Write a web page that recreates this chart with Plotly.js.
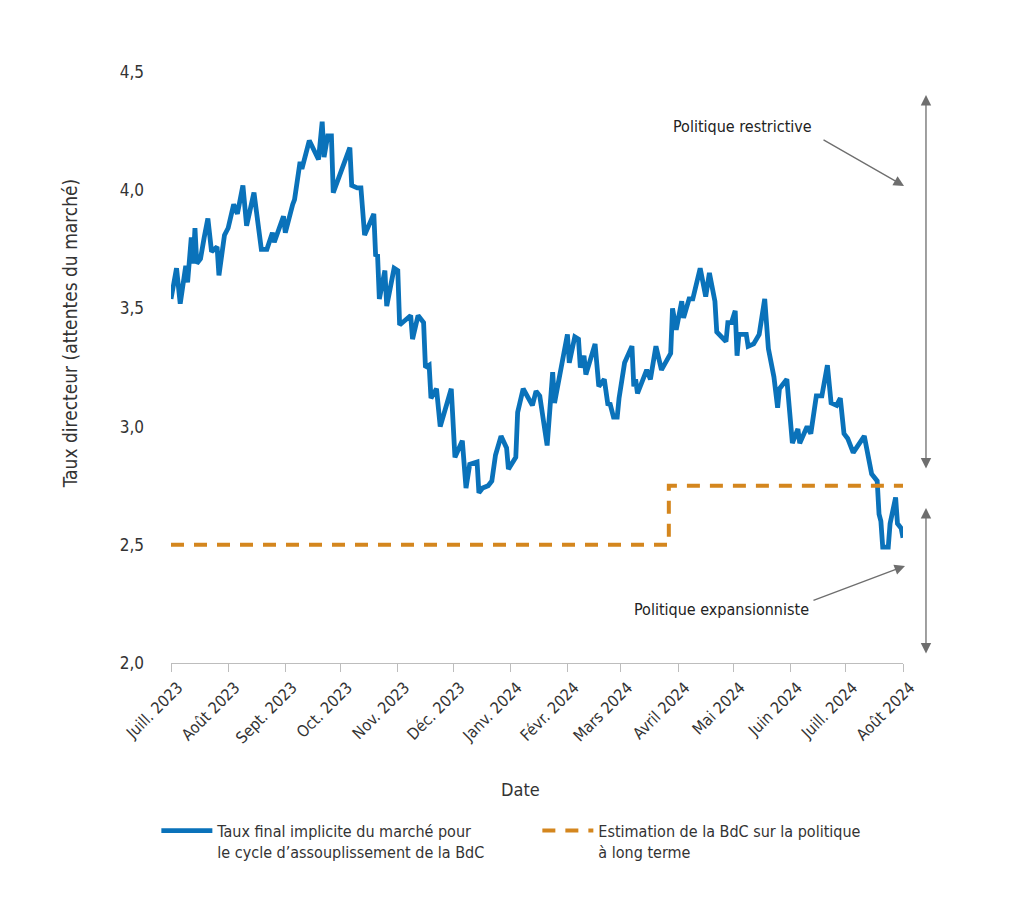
<!DOCTYPE html>
<html>
<head>
<meta charset="utf-8">
<script src="https://cdn.plot.ly/plotly-3.0.1.min.js"></script>
<style>
html,body{margin:0;padding:0;background:#fff;}
#chart{width:1024px;height:921px;}
</style>
</head>
<body>
<div id="chart"></div>
<script>
// Market-implied terminal rate (Taux final implicite du marché)
const marketDates = [
'2023-07-01','2023-07-04','2023-07-06','2023-07-09','2023-07-10','2023-07-12','2023-07-13','2023-07-14','2023-07-15','2023-07-17',
'2023-07-19','2023-07-21','2023-07-23','2023-07-26','2023-07-27','2023-07-30','2023-08-01','2023-08-04','2023-08-06','2023-08-09',
'2023-08-11','2023-08-15','2023-08-19','2023-08-22','2023-08-25','2023-08-26','2023-08-31','2023-09-01','2023-09-05','2023-09-06',
'2023-09-09','2023-09-10','2023-09-14','2023-09-19','2023-09-21','2023-09-22','2023-09-24','2023-09-26','2023-09-27','2023-10-06',
'2023-10-07','2023-10-10','2023-10-12','2023-10-14','2023-10-19','2023-10-20','2023-10-21','2023-10-22','2023-10-25','2023-10-26',
'2023-10-30','2023-11-01','2023-11-02','2023-11-08','2023-11-09','2023-11-12','2023-11-15','2023-11-16','2023-11-18','2023-11-19',
'2023-11-22','2023-11-24','2023-11-30','2023-12-02','2023-12-06','2023-12-08','2023-12-10','2023-12-14','2023-12-15','2023-12-17',
'2023-12-20','2023-12-22','2023-12-24','2023-12-27','2023-12-30','2023-12-31','2024-01-04','2024-01-05','2024-01-08','2024-01-13',
'2024-01-15','2024-01-17','2024-01-21','2024-01-24','2024-01-25','2024-02-01','2024-02-02','2024-02-05','2024-02-07','2024-02-08',
'2024-02-10','2024-02-11','2024-02-16','2024-02-18','2024-02-21','2024-02-23','2024-02-24','2024-02-26','2024-02-28','2024-02-29',
'2024-03-03','2024-03-07','2024-03-08','2024-03-09','2024-03-10','2024-03-15','2024-03-17','2024-03-20','2024-03-23','2024-03-27',
'2024-03-28','2024-03-29','2024-03-31','2024-04-03','2024-04-04','2024-04-07','2024-04-09','2024-04-13','2024-04-16','2024-04-18',
'2024-04-21','2024-04-22','2024-04-26','2024-04-27','2024-04-28','2024-04-30','2024-05-02','2024-05-03','2024-05-04','2024-05-08',
'2024-05-09','2024-05-12','2024-05-15','2024-05-18','2024-05-20','2024-05-23','2024-05-25','2024-05-26','2024-05-30','2024-06-02',
'2024-06-05','2024-06-06','2024-06-10','2024-06-12','2024-06-15','2024-06-18','2024-06-21','2024-06-23','2024-06-26','2024-06-28',
'2024-06-30','2024-07-02','2024-07-05','2024-07-11','2024-07-15','2024-07-18','2024-07-19','2024-07-20','2024-07-21','2024-07-24',
'2024-07-25','2024-07-28','2024-07-29','2024-07-31','2024-08-01'
];
const marketRate = [
3.54,3.67,3.52,3.68,3.61,3.80,3.69,3.84,3.69,3.71,
3.80,3.88,3.74,3.76,3.64,3.81,3.84,3.94,3.90,4.02,
3.85,3.99,3.75,3.75,3.82,3.78,3.89,3.82,3.94,3.96,
4.12,4.09,4.21,4.13,4.29,4.14,4.23,4.23,3.99,4.18,
4.02,4.01,4.01,3.81,3.90,3.72,3.73,3.54,3.66,3.51,
3.67,3.66,3.43,3.47,3.37,3.47,3.44,3.25,3.26,3.12,
3.16,3.00,3.16,2.87,2.94,2.74,2.84,2.85,2.72,2.74,
2.75,2.77,2.88,2.96,2.91,2.82,2.87,3.06,3.16,3.09,
3.15,3.13,2.92,3.23,3.10,3.39,3.27,3.38,3.37,3.25,
3.30,3.22,3.35,3.17,3.20,3.09,3.10,3.04,3.04,3.12,
3.27,3.34,3.17,3.20,3.14,3.24,3.20,3.34,3.24,3.30,
3.31,3.50,3.41,3.53,3.46,3.54,3.54,3.67,3.55,3.65,
3.53,3.40,3.37,3.36,3.44,3.44,3.49,3.30,3.39,3.39,
3.34,3.35,3.39,3.54,3.33,3.21,3.08,3.16,3.20,2.93,
2.99,2.93,3.00,2.97,3.13,3.13,3.26,3.10,3.09,3.12,
2.97,2.95,2.89,2.96,2.80,2.77,2.63,2.60,2.49,2.49,
2.59,2.70,2.59,2.57,2.53
];

// BoC long-term neutral estimate (step)
const neutralDates = ['2023-07-01','2024-03-27','2024-08-01'];
const neutralRate = [2.50, 2.75, 2.75];

// Axis ticks
const monthTickVals = ['2023-07-01','2023-08-01','2023-09-01','2023-10-01','2023-11-01','2023-12-01','2024-01-01',
  '2024-02-01','2024-03-01','2024-04-01','2024-05-01','2024-06-01','2024-07-01','2024-08-01'];
const monthTickText = ['Juill. 2023','Août 2023','Sept. 2023','Oct. 2023','Nov. 2023','Déc. 2023','Janv. 2024',
  'Févr. 2024','Mars 2024','Avril 2024','Mai 2024','Juin 2024','Juill. 2024','Août 2024'];
const yTickVals = [2.0, 2.5, 3.0, 3.5, 4.0, 4.5];

const seriesNames = ['Taux final implicite du marché pour<br>le cycle d’assouplissement de la BdC',
                     'Estimation de la BdC sur la politique<br>à long terme'];

const FONT = "'Liberation Sans Narrow', 'DejaVu Sans Condensed', 'Noto Sans', sans-serif";
const TXT = '#333333';
const GREY = '#6e6e6e';

const traces = [
  {
    x: marketDates, y: marketRate, type: 'scatter', mode: 'lines',
    name: seriesNames[0],
    line: {color: '#0A72BA', width: 4.8, shape: 'linear'},
    cliponaxis: false
  },
  {
    x: neutralDates, y: neutralRate, type: 'scatter', mode: 'lines',
    name: seriesNames[1],
    line: {color: '#D4861E', width: 4, shape: 'hv', dash: '13px,10px'},
    cliponaxis: false
  }
];

const layout = {
  width: 1024, height: 921,
  margin: {l: 171, r: 121, t: 72, b: 258},
  paper_bgcolor: '#ffffff', plot_bgcolor: '#ffffff',
  separators: ', ',
  font: {family: FONT, size: 16, color: TXT},
  showlegend: true,
  legend: {
    orientation: 'h', x: -0.02, xanchor: 'left', y: -0.255, yanchor: 'top',
    valign: 'top', font: {family: FONT, size: 16, color: TXT},
    itemwidth: 51,
    entrywidth: 315, entrywidthmode: 'pixels', traceorder: 'normal',
    bgcolor: 'rgba(0,0,0,0)'
  },
  xaxis: {
    type: 'date',
    range: ['2023-07-01', '2024-08-01'],
    tickmode: 'array', tickvals: monthTickVals, ticktext: monthTickText,
    tickangle: -45, ticks: 'outside', ticklen: 8, tickcolor: '#bdbdbd', tickwidth: 1,
    ticklabelshift: 7,
    showline: true, linecolor: '#bdbdbd', linewidth: 1,
    showgrid: false, zeroline: false,
    tickfont: {family: FONT, size: 16, color: TXT}
  },
  yaxis: {
    range: [2, 4.5],
    tickmode: 'array', tickvals: yTickVals, tickformat: '.1f',
    showgrid: false, zeroline: false, showline: false, ticks: '',
    ticklabelstandoff: 26,
    tickfont: {family: FONT, size: 17, color: TXT}
  },
  annotations: [
    {text: 'Taux directeur (attentes du marché)', xref: 'paper', yref: 'paper',
     x: -0.138, y: 0.558, xanchor: 'center', yanchor: 'middle', textangle: -90, showarrow: false,
     font: {family: FONT, size: 19, color: TXT}},
    {text: 'Date', xref: 'paper', yref: 'paper', x: 0.4768, y: -0.2132,
     xanchor: 'center', yanchor: 'middle', showarrow: false,
     font: {family: FONT, size: 18, color: TXT}},
    {text: 'Politique restrictive', xref: 'paper', yref: 'paper', x: 0.7814, y: 0.9086,
     xanchor: 'center', yanchor: 'middle',
     showarrow: false, font: {family: FONT, size: 16, color: '#222'}},
    {text: 'Politique expansionniste', xref: 'paper', yref: 'paper', x: 0.7527, y: 0.0897,
     xanchor: 'center', yanchor: 'middle',
     showarrow: false, font: {family: FONT, size: 16, color: '#222'}},
    // pointer arrows
    {text: '', xref: 'paper', yref: 'paper', x: 1.0014, y: 0.8071, ax: -82, ay: -47,
     showarrow: true, arrowhead: 2, arrowsize: 1.6, arrowwidth: 1.3, arrowcolor: GREY},
    {text: '', xref: 'paper', yref: 'paper', x: 1.0027, y: 0.1641, ax: -93, ay: 35,
     showarrow: true, arrowhead: 2, arrowsize: 1.6, arrowwidth: 1.3, arrowcolor: GREY},
    // vertical range arrows
    {text: '', xref: 'paper', yref: 'paper', x: 1.0314, y: 0.9611, ax: 0, ay: 375,
     showarrow: true, arrowside: 'end+start', arrowhead: 2, startarrowhead: 2,
     arrowsize: 1.6, startarrowsize: 1.6, arrowwidth: 1.3, arrowcolor: GREY},
    {text: '', xref: 'paper', yref: 'paper', x: 1.0314, y: 0.2623, ax: 0, ay: 147,
     showarrow: true, arrowside: 'end+start', arrowhead: 2, startarrowhead: 2,
     arrowsize: 1.6, startarrowsize: 1.6, arrowwidth: 1.3, arrowcolor: GREY}
  ]
};

Plotly.newPlot('chart', traces, layout, {displayModeBar: false, staticPlot: true});
</script>
</body>
</html>
